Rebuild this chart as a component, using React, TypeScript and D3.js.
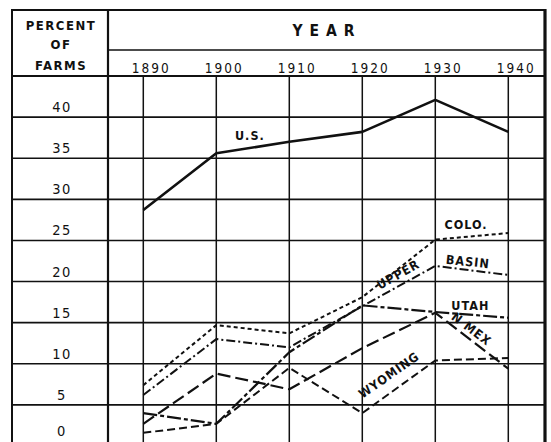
import React from "react";
import * as d3 from "d3";

const W = 551;
const H = 442;

const YEARS = [1890, 1900, 1910, 1920, 1930, 1940];
const Y_TICKS = [0, 5, 10, 15, 20, 25, 30, 35, 40];

const US = [28.7, 35.6, 37.0, 38.2, 42.1, 38.2];
const COLO = [7.4, 14.7, 13.7, 18.1, 25.1, 25.9];
const UPPER_BASIN = [6.2, 13.0, 12.0, 17.0, 21.9, 20.8];
const UTAH = [4.0, 2.7, 11.4, 17.1, 16.3, 15.6];
const N_MEX = [2.7, 8.8, 6.9, 11.9, 16.2, 9.4];
const WYOMING = [1.6, 2.7, 9.5, 4.0, 10.4, 10.7];

const SERIES = [
  { name: "U.S.", values: US, dash: null, width: 2.6 },
  { name: "COLO.", values: COLO, dash: "4,3", width: 2 },
  { name: "UPPER BASIN", values: UPPER_BASIN, dash: "9,3,2,3", width: 2 },
  { name: "UTAH", values: UTAH, dash: "14,3,4,3", width: 2.2 },
  { name: "N. MEX.", values: N_MEX, dash: "13,5", width: 2.2 },
  { name: "WYOMING", values: WYOMING, dash: "8,4", width: 2 },
];

// text, anchor year, anchor value, rotation
const LABELS: [string, number, number, number][] = [
  ["U.S.", 1904.6, 37.2, 0],
  ["COLO.", 1934.2, 26.4, 0],
  ["BASIN", 1934.4, 21.9, 6],
  ["UTAH", 1934.8, 16.6, 0],
  ["N MEX", 1934.6, 13.8, 37],
  ["UPPER", 1925.2, 20.4, -29],
  ["WYOMING", 1924.0, 8.2, -35],
];

const FONT = "'DejaVu Sans Condensed', 'DejaVu Sans', sans-serif";

const App = () => {
  const ref = React.useRef<SVGSVGElement>(null);

  React.useEffect(() => {
    const svg = d3.select(ref.current!);
    svg.selectAll("*").remove();

    const left = 12;
    const divider = 108;
    const right = 545;
    const top = 10;
    const yearTop = 50;
    const headBottom = 76;

    const x = d3.scaleLinear().domain([1890, 1940]).range([143.3, 508.3]);
    const y = d3.scaleLinear().domain([0, 45]).range([446, 76]);

    const grid = svg.append("g").attr("stroke", "#111").attr("fill", "none");

    // horizontal rules
    Y_TICKS.forEach((v) => {
      grid
        .append("line")
        .attr("x1", left)
        .attr("x2", right)
        .attr("y1", y(v))
        .attr("y2", y(v))
        .attr("stroke-width", 1.6);
    });
    grid
      .append("line")
      .attr("x1", left)
      .attr("x2", right)
      .attr("y1", headBottom)
      .attr("y2", headBottom)
      .attr("stroke-width", 1.8);
    grid
      .append("line")
      .attr("x1", left)
      .attr("x2", right)
      .attr("y1", top)
      .attr("y2", top)
      .attr("stroke-width", 2);
    grid
      .append("line")
      .attr("x1", divider)
      .attr("x2", right)
      .attr("y1", yearTop)
      .attr("y2", yearTop)
      .attr("stroke-width", 1.6);

    // vertical rules
    YEARS.forEach((yr) => {
      grid
        .append("line")
        .attr("x1", x(yr))
        .attr("x2", x(yr))
        .attr("y1", headBottom)
        .attr("y2", H)
        .attr("stroke-width", 1.5);
    });
    [
      [left, 2],
      [divider, 2.2],
      [right, 3.2],
    ].forEach(([px, sw]) => {
      grid
        .append("line")
        .attr("x1", px)
        .attr("x2", px)
        .attr("y1", top - 1)
        .attr("y2", H)
        .attr("stroke-width", sw);
    });

    const text = svg
      .append("g")
      .attr("font-family", FONT)
      .attr("font-weight", "bold")
      .attr("fill", "#111")
      .attr("text-anchor", "middle");

    // header
    [
      ["PERCENT", 29.5],
      ["OF", 49],
      ["FARMS", 70],
    ].forEach(([t, py]) => {
      text
        .append("text")
        .attr("x", 61)
        .attr("y", py)
        .attr("font-size", 13)
        .attr("letter-spacing", 1.5)
        .text(t);
    });
    text
      .append("text")
      .attr("x", 327)
      .attr("y", 36)
      .attr("font-size", 15.5)
      .attr("letter-spacing", 7)
      .text("YEAR");

    YEARS.forEach((yr) => {
      text
        .append("text")
        .attr("x", x(yr) + 8)
        .attr("y", 73)
        .attr("font-size", 13.5)
        .attr("font-weight", "normal")
        .attr("letter-spacing", 2)
        .text(yr);
    });

    // tick labels sit just above their rule (0 rule is below the picture)
    Y_TICKS.forEach((v) => {
      text
        .append("text")
        .attr("x", 62)
        .attr("y", Math.min(y(v) - 5, H - 6))
        .attr("font-size", 14.5)
        .attr("font-weight", "normal")
        .attr("letter-spacing", 1.5)
        .text(v);
    });

    // data lines
    const line = d3
      .line<number>()
      .x((_, i) => x(YEARS[i]))
      .y((d) => y(d));

    svg
      .append("g")
      .selectAll("path")
      .data(SERIES)
      .enter()
      .append("path")
      .attr("d", (d) => line(d.values))
      .attr("fill", "none")
      .attr("stroke", "#111")
      .attr("stroke-width", (d) => d.width)
      .attr("stroke-dasharray", (d) => d.dash ?? null)
      .attr("stroke-linejoin", "round");

    // series labels
    LABELS.forEach(([t, yr, v, rot]) => {
      text
        .append("text")
        .attr("transform", `translate(${x(yr)},${y(v)}) rotate(${rot})`)
        .attr("font-size", 12.5)
        .attr("letter-spacing", 1)
        .text(t);
    });
  }, []);

  return (
    <svg
      ref={ref}
      width={W}
      height={H}
      style={{ position: "absolute", left: 0, top: 0, background: "#fff" }}
    />
  );
};

export default App;
